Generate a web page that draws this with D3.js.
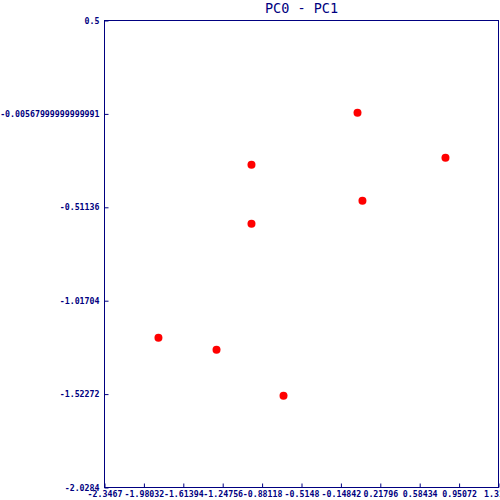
<!DOCTYPE html>
<html><head><meta charset="utf-8">
<script src="https://cdn.jsdelivr.net/npm/d3@7"></script>
<style>body{margin:0;background:#fff}svg{display:block}</style>
</head><body>
<script>
const title = "PC0 - PC1";
const pc0 = [0.006, 0.824, -0.980, 0.052, -0.980, -1.845, -1.305, -0.682];
const pc1 = [0.000, -0.243, -0.281, -0.476, -0.601, -1.218, -1.283, -1.532];
const xTicks = [-2.3467, -1.98032, -1.61394, -1.24756, -0.88118, -0.5148, -0.14842, 0.21796, 0.58434, 0.95072, 1.3171];
const yTicks = [0.5, -0.00568, -0.51136, -1.01704, -1.52272, -2.0284];
const xTickLabels = ["-2.3467","-1.98032","-1.61394","-1.24756","-0.88118","-0.5148","-0.14842","0.21796","0.58434","0.95072","1.3171"];
const yTickLabels = ["0.5","-0.00567999999999991","-0.51136","-1.01704","-1.52272","-2.0284"];

const W = 500, H = 500;
const L = 104.5, R = 498.5, T = 20.5, B = 487.5;
const col = "#000080";
const svg = d3.select("body").append("svg").attr("width", W).attr("height", H);
const x = d3.scaleLinear().domain([xTicks[0], xTicks[xTicks.length-1]]).range([L, R]);
const y = d3.scaleLinear().domain([yTicks[yTicks.length-1], yTicks[0]]).range([B, T]);

svg.append("rect").attr("x", L).attr("y", T).attr("width", R-L).attr("height", B-T)
  .attr("fill", "none").attr("stroke", col).attr("stroke-width", 1);

const font = "'DejaVu Sans Mono', 'Liberation Mono', monospace";
const xa = svg.append("g").attr("transform", `translate(0,${B})`)
  .call(d3.axisBottom(x).tickValues(xTicks).tickSize(-4).tickPadding(3)
        .tickFormat((d,i) => xTickLabels[i]));
const ya = svg.append("g").attr("transform", `translate(${L},0)`)
  .call(d3.axisLeft(y).tickValues(yTicks).tickSize(-4).tickPadding(5)
        .tickFormat((d,i) => yTickLabels[i]));
[xa, ya].forEach(g => {
  g.select(".domain").remove();
  g.selectAll("line").attr("stroke", col);
  g.selectAll("text").attr("fill", col).attr("font-family", font)
    .attr("font-size", 8.25).attr("font-weight", "bold");
});
xa.selectAll("text").attr("dy", "0.75em");

svg.append("text").attr("x", (L+R)/2).attr("y", 13).attr("text-anchor", "middle")
  .attr("fill", col).attr("font-family", font).attr("font-size", 13.5).text(title);

svg.append("g").selectAll("circle").data(pc0).join("circle")
  .attr("cx", d => x(d)).attr("cy", (d,i) => y(pc1[i])).attr("r", 4)
  .attr("fill", "#ff0000");
</script>
</body></html>
